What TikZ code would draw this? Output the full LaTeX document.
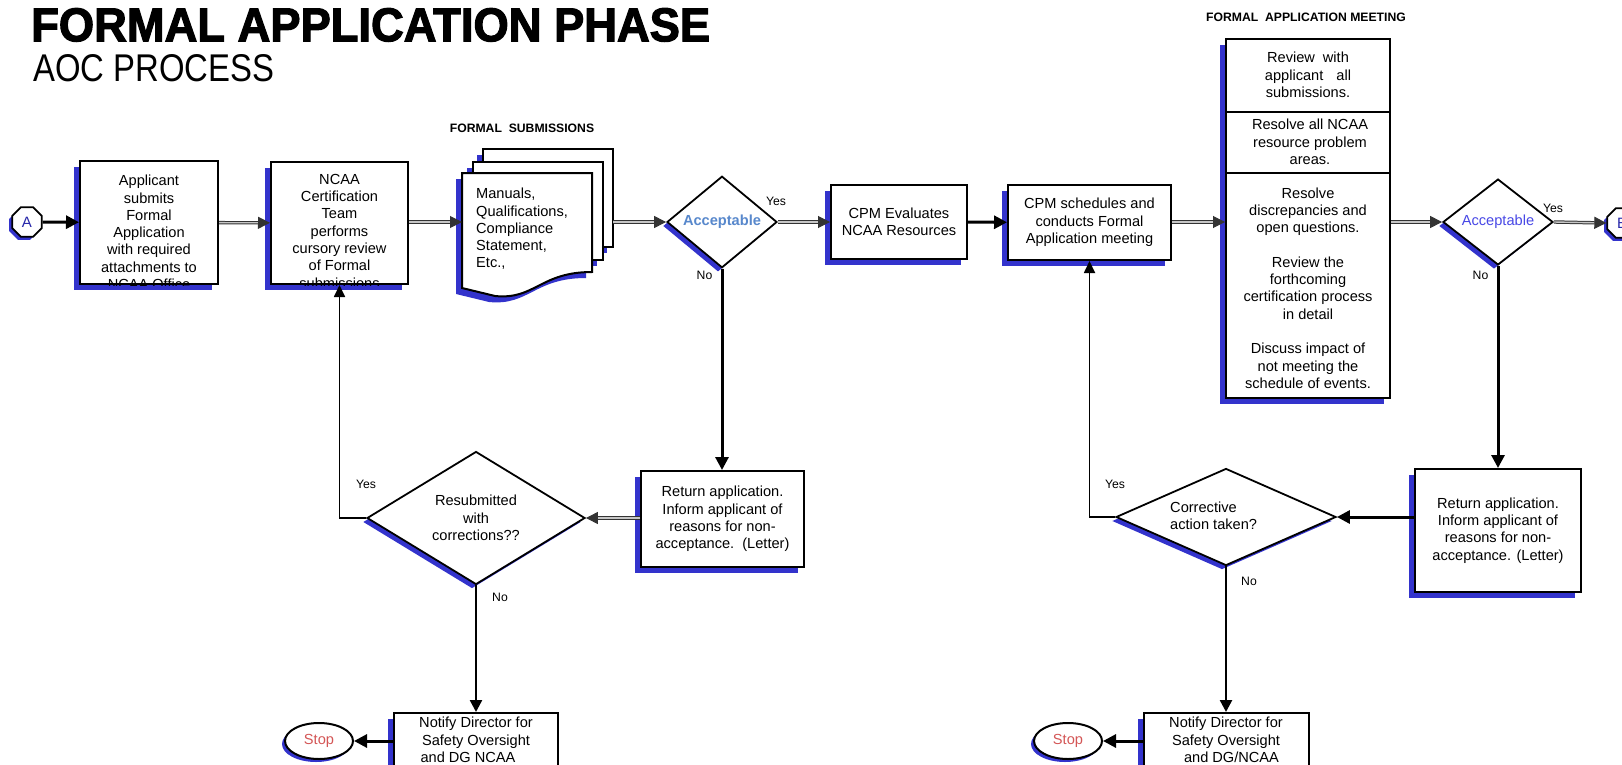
\documentclass[tikz,border=0pt]{standalone}
\usepackage{fontspec}
\setmainfont{Liberation Sans}
\newfontfamily\heavyfont[FakeBold=2.5]{Liberation Sans Bold}
\usepackage{graphicx}
\usepackage{xcolor}
\usetikzlibrary{positioning}
\usetikzlibrary{arrows.meta,shapes.geometric,shadows,calc}

\definecolor{shblue}{RGB}{51,51,204}
\definecolor{accblue}{RGB}{88,136,204}
\definecolor{accviolet}{RGB}{72,72,230}
\definecolor{stopred}{RGB}{212,86,86}
\definecolor{abcol}{RGB}{40,40,170}

\newcommand{\body}{\fontsize{14.6}{17.3}\selectfont}
\newcommand{\lblfont}{\fontsize{12.2}{14}\selectfont}

\tikzset{
  shad/.style={drop shadow={shadow xshift=-6pt, shadow yshift=-6pt, fill=shblue, opacity=1}},
  box/.style={draw, line width=2pt, fill=white, shad, inner sep=2pt, font=\body, align=center},
  dia/.style={diamond, draw, line width=1.8pt, fill=white, inner sep=0pt, font=\body, align=center,
    drop shadow={shadow xshift=-4pt, shadow yshift=-4pt, fill=shblue, opacity=1}},
  conn/.style={regular polygon, regular polygon sides=8, draw, line width=1.8pt, fill=white,
    minimum size=32pt, inner sep=0pt, font=\fontsize{15}{17}\selectfont,
    drop shadow={shadow xshift=-3pt, shadow yshift=-3pt, fill=shblue, opacity=1}},
  stopnode/.style={ellipse, draw, line width=2pt, fill=white, minimum width=68pt, minimum height=36pt,
    inner sep=0pt, font=\body,
    drop shadow={shadow xshift=-3pt, shadow yshift=-3pt, fill=shblue, opacity=1}},
  txt/.style={font=\body, align=center, inner sep=0pt},
  lbl/.style={font=\lblfont, inner sep=0pt},
  head/.style={font=\lblfont\bfseries, inner sep=0pt},
  page/.style={draw, line width=2pt, fill=white},
  thickarr/.style={line width=3pt, -{Triangle[length=13pt,width=13pt]}},
  midarr/.style={line width=2.5pt, -{Triangle[length=12pt,width=12pt]}},
  thinarr/.style={line width=1.7pt, -{Triangle[length=12pt,width=11pt]}},
  dblarr/.style={draw=black!80, double=gray!45, double distance=1.4pt, line width=1pt,
    -{Triangle[length=12pt,width=12pt,fill=black!80]}}
}

\begin{document}
\begin{tikzpicture}[x=1pt,y=-1pt]
\clip (0,0) rectangle (1622,765);

% titles
\node[anchor=north west, inner sep=0pt] (title) at (31,8) {\resizebox{679pt}{33pt}{\heavyfont FORMAL APPLICATION PHASE}};
\node[anchor=north west, inner sep=0pt] (subtitle) at (33,54) {\resizebox{241pt}{27pt}{AOC PROCESS}};
\node[head] (subhead) at (522,128) {FORMAL\ \ SUBMISSIONS};
\node[head] (meethead) at (1306,17) {FORMAL\ \ APPLICATION MEETING};

% top row
\node[conn] (A) at (27,222) {\color{abcol}A};
\node[box, minimum width=138pt, minimum height=123pt] (apply) at (149,222.5) {};
\begin{scope}
\clip (apply.north west) rectangle (apply.south east);
\node[txt, anchor=north] (applytxt) at ([yshift=-15pt]apply.north) {Applicant\\submits\\Formal\\Application\\with required\\attachments to\\NCAA Office};
\end{scope}
\node[box, minimum width=137pt, minimum height=122pt] (ncaa) at (339.5,223) {};
\begin{scope}
\clip (ncaa.north west) rectangle (ncaa.south east);
\node[txt, anchor=north] (ncaatxt) at ([yshift=-13pt]ncaa.north) {NCAA\\Certification\\Team\\performs\\cursory review\\of Formal\\submissions};
\end{scope}

% document stack
\fill[shblue] (477,155) rectangle (607,253);
\draw[page] (483,149) rectangle (613,247);
\fill[shblue] (467,168) rectangle (597,266);
\draw[page] (473,162) rectangle (603,260);
\fill[shblue, shift={(-6,6)}] (462,173) -- (592,173) -- (592,272) .. controls (540,272) and (535,300) .. (495,296) -- (462,288) -- cycle;
\draw[page] (462,173) -- (592,173) -- (592,272) .. controls (540,272) and (535,300) .. (495,296) -- (462,288) -- cycle;
\node[txt, align=left, anchor=west] (docs) at (476,229) {Manuals,\\Qualifications,\\Compliance\\Statement,\\Etc.,};
\coordinate (docin) at (462,222);
\coordinate (docout) at (613,222);

\node[dia, minimum width=110pt, minimum height=74pt] (acc1) at (722,222) {\textbf{\color{accblue}Acceptable}};
\node[box, minimum width=136pt, minimum height=74pt] (cpmeval) at (899,222) {CPM Evaluates\\NCAA Resources};
\node[box, minimum width=163pt, minimum height=75pt] (cpmsched) at (1089.5,222.5) {CPM schedules and\\conducts Formal\\Application meeting};

% meeting box
\node[box, minimum width=164pt, minimum height=359pt] (meet) at (1308,218.5) {};
\coordinate (cut1) at (1308,112);
\coordinate (cut2) at (1308,173);
\draw[line width=1.2pt] (meet.west |- cut1) -- (meet.east |- cut1);
\draw[line width=1.2pt] (meet.west |- cut2) -- (meet.east |- cut2);
\node[txt] (meet1) at (1308,75) {Review\hspace{8pt}with\\applicant\hspace{13pt}all\\submissions.};
\node[txt] (meet2) at (1310,142) {Resolve all NCAA\\resource problem\\areas.};
\node[txt] (meet3) at (1308,288) {Resolve\\discrepancies and\\open questions.\\[17.3pt]Review the\\forthcoming\\certification process\\in detail\\[17.3pt]Discuss impact of\\not meeting the\\schedule of events.};

\node[dia, minimum width=110pt, minimum height=74pt] (acc2) at (1498,222) {\color{accviolet}Acceptable};
\node[conn] (B) at (1622,223) {\color{abcol}B};

% lower left
\node[box, minimum width=163pt, minimum height=96pt] (ret1) at (722.5,519) {Return application.\\Inform applicant of\\reasons for non-\\acceptance.\ \ (Letter)};
\node[dia, minimum width=218pt, minimum height=124pt] (resub) at (476,518) {Resubmitted\\with\\corrections??};
\node[box, minimum width=164pt, minimum height=82pt] (notify1) at (476,754) {};
\node[txt, anchor=north] (notify1txt) at (476,717) {Notify Director for\\Safety Oversight\\and DG NCAA\hspace*{16pt}};
\node[stopnode] (stop1) at (319,741) {\color{stopred}Stop};

% lower right
\node[box, minimum width=166pt, minimum height=123pt] (ret2) at (1498,530.5) {Return application.\\Inform applicant of\\reasons for non-\\acceptance. (Letter)};
\node[dia, minimum width=220pt, minimum height=97pt] (corr) at (1226,517) {};
\node[txt, align=left, anchor=west] (corrtxt) at (1170,516) {Corrective\\action taken?};
\node[box, minimum width=165pt, minimum height=82pt] (notify2) at (1226.5,754) {};
\node[txt, anchor=north] (notify2txt) at (1226,717) {Notify Director for\\Safety Oversight\hspace*{22pt}\\\hspace*{11pt}and DG/NCAA};
\node[stopnode] (stop2) at (1068,741) {\color{stopred}Stop};

% connectors
\draw[thickarr] (A) -- (apply);
\draw[dblarr] (apply) -- (ncaa);
\draw[dblarr] (ncaa.east |- docin) -- (docin);
\draw[dblarr] (docout) -- (acc1.west);
\draw[dblarr] (acc1.east) -- (cpmeval.west);
\draw[thickarr] (cpmeval) -- (cpmsched);
\draw[dblarr] (cpmsched.east |- docin) -- (meet.west |- docin);
\draw[dblarr] (meet.east |- acc2) -- (acc2.west);
\draw[dblarr] (acc2.east) -- (B.west);

\draw[thickarr] (acc1.south) -- (acc1.south |- ret1.north);
\draw[dblarr] (ret1.west |- resub.east) -- (resub.east);
\draw[thinarr] (resub.west) -| (ncaa.south);
\draw[midarr] (resub.south) -- (notify1.north);
\draw[thickarr] (notify1.west |- stop1.east) -- (stop1.east);

\draw[thickarr] (acc2.south) -- (acc2.south |- ret2.north);
\draw[thickarr] (ret2.west |- corr.east) -- (corr.east);
\draw[thinarr] (corr.west) -| (cpmsched.south);
\draw[midarr] (corr.south) -- (corr.south |- notify2.north);
\draw[thickarr] (notify2.west |- stop2.east) -- (stop2.east);

% yes / no
\node[lbl] (yes1) at (776,201) {Yes};
\node[lbl] (no1) at (704.5,275) {No};
\node[lbl] (yes2) at (1553,208) {Yes};
\node[lbl] (no2) at (1480.5,275) {No};
\node[lbl] (yes3) at (366,484) {Yes};
\node[lbl] (no3) at (500,597) {No};
\node[lbl] (yes4) at (1115,484) {Yes};
\node[lbl] (no4) at (1249,581) {No};

\end{tikzpicture}
\end{document}
